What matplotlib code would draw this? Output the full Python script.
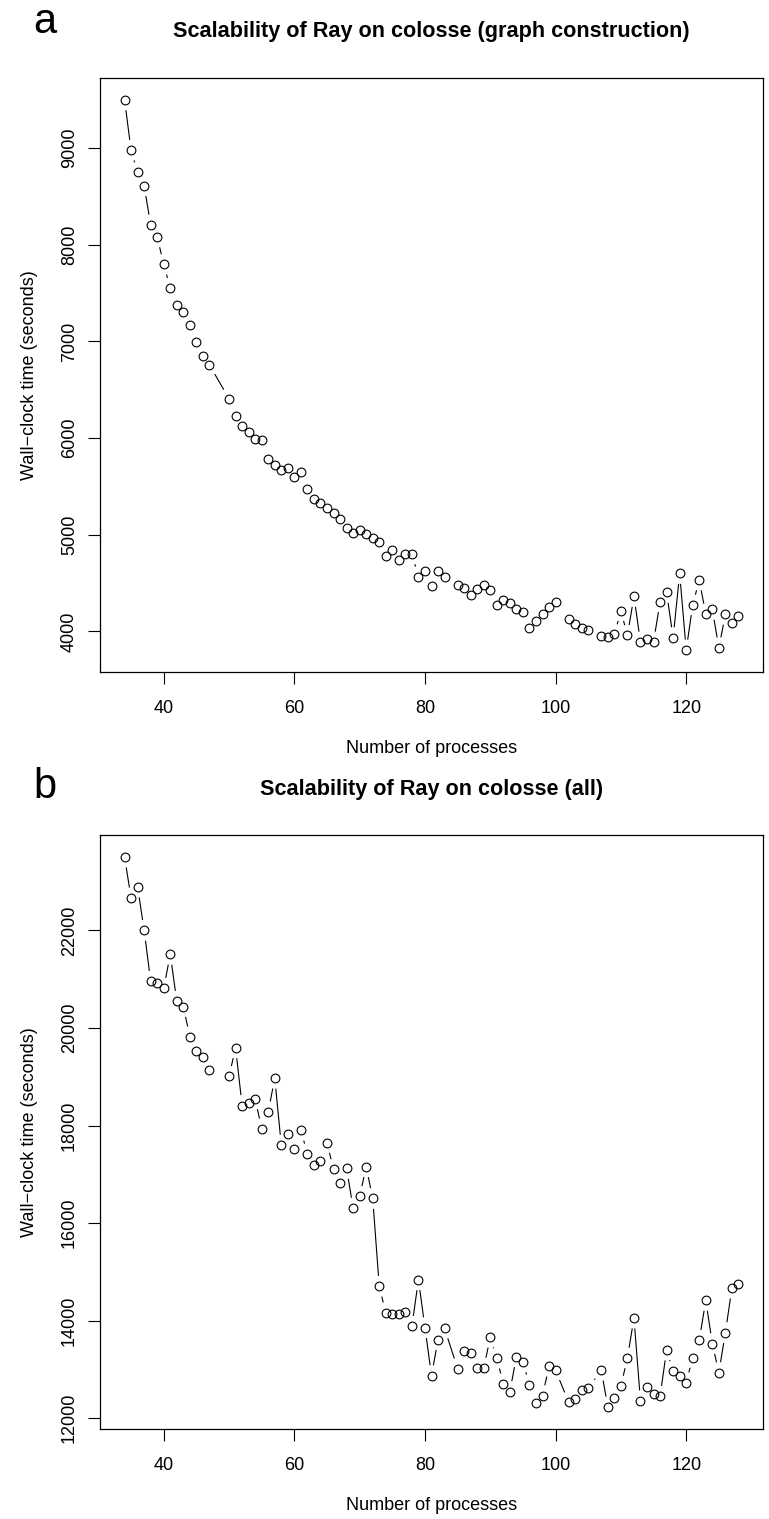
import numpy as np
import matplotlib
matplotlib.use("Agg")
import matplotlib.pyplot as plt

# ---------------- data ----------------
procs = ([34, 35, 36, 37, 38, 39, 40, 41, 42, 43, 44, 45, 46, 47]
         + list(range(50, 84)) + list(range(85, 101))
         + [102, 103, 104, 105] + list(range(107, 129)))

time_graph = [9500, 8976, 8748, 8611, 8204, 8080, 7796, 7552, 7380, 7300, 7166, 6997, 6850, 6756,
              6407, 6228, 6121, 6059, 5990, 5976, 5786, 5721, 5673, 5693, 5597, 5652, 5476, 5373,
              5328, 5272, 5221, 5163, 5070, 5021, 5045, 5007, 4966, 4925, 4783, 4838, 4742, 4797,
              4800, 4566, 4625, 4470, 4628, 4566,
              4483, 4445, 4376, 4441, 4476, 4424, 4276, 4328, 4292, 4228, 4200, 4035, 4110, 4180,
              4250, 4300,
              4131, 4072, 4036, 4014,
              3953, 3942, 3969, 4214, 3959, 4362, 3890, 3921, 3890, 4307, 4403, 3935, 4600, 3808,
              4276, 4531, 4180, 4228, 3831, 4176, 4083, 4162]

time_all = [23503, 22663, 22889, 22000, 20956, 20915, 20812, 21509, 20546, 20437, 19817, 19530,
            19399, 19141,
            19010, 19592, 18410, 18471, 18547, 17932, 18281, 18970, 17597, 17822, 17515, 17898,
            17421, 17200, 17263, 17650, 17099, 16819, 17120, 16307, 16546, 17154, 16505, 14703,
            14164, 14130, 14130, 14171, 13884, 14840, 13857, 12874, 13611, 13843,
            13017, 13386, 13337, 13030, 13030, 13659, 13229, 12710, 12547, 13260, 13150, 12690,
            12307, 12465, 13065, 12983,
            12331, 12389, 12584, 12614,
            12986, 12231, 12416, 12662, 13235, 14054, 12355, 12649, 12491, 12450, 13399, 12963,
            12867, 12731, 13243, 13597, 14417, 13530, 12936, 13755, 14669, 14759]

xticks = [40, 60, 80, 100, 120]
yticks_graph = [4000, 5000, 6000, 7000, 8000, 9000]
yticks_all = [12000, 14000, 16000, 18000, 20000, 22000]

title_graph = "Scalability of Ray on colosse (graph construction)"
title_all = "Scalability of Ray on colosse (all)"
xlabel = "Number of processes"
ylabel = "Wall\u2212clock time (seconds)"

# ---------------- layout ----------------
plt.rcParams['font.family'] = ['Liberation Sans', 'DejaVu Sans']
W, H = 769, 1519
DPI = 100
fig = plt.figure(figsize=(W / DPI, H / DPI), dpi=DPI)
FS = 12.96


def add_axes(top_px, bottom_px, left_px=100, right_px=763):
    return fig.add_axes([left_px / W, 1 - bottom_px / H,
                         (right_px - left_px) / W, (bottom_px - top_px) / H])


def rlim(v):
    lo, hi = min(v), max(v)
    pad = 0.04 * (hi - lo)
    return lo - pad, hi + pad


def panel(ax, x, y, yticks, title, letter, top_px, bottom_px, letter_base_px):
    ax.set_xlim(*rlim(x))
    ax.set_ylim(*rlim(y))
    ax.plot(x, y, linestyle='none', marker='o', mfc='none', mec='black',
            ms=6.3, mew=0.8)
    # R-style type="b" connecting segments with gaps around points
    pts = ax.transData.transform(np.column_stack([x, y]))
    inv = ax.transData.inverted()
    gap = 10.5
    for p0, p1 in zip(pts[:-1], pts[1:]):
        d = p1 - p0
        L = np.hypot(d[0], d[1])
        if L > 2 * gap:
            u = d / L
            a = inv.transform(p0 + u * gap)
            b = inv.transform(p1 - u * gap)
            ax.plot([a[0], b[0]], [a[1], b[1]], color='black', lw=0.8,
                    solid_capstyle='butt')
    ax.set_xticks(xticks)
    ax.set_yticks(yticks)
    ax.set_xticklabels([str(t) for t in xticks])
    ax.set_yticklabels([str(t) for t in yticks])
    ax.tick_params(axis='both', direction='out', length=8.6, width=0.8,
                   labelsize=FS, color='black')
    ax.tick_params(axis='x', pad=11.5)
    ax.tick_params(axis='y', pad=7.3, labelrotation=90)
    for lab in ax.get_yticklabels():
        lab.set_va('center')
    for s in ax.spines.values():
        s.set_linewidth(0.9)
        s.set_color('black')
    hpx = bottom_px - top_px
    ax.set_xlabel(xlabel, fontsize=FS, va='center')
    ax.xaxis.set_label_coords(0.5, -76 / hpx)
    ax.set_ylabel(ylabel, fontsize=FS, va='center')
    ax.yaxis.set_label_coords((29 - 100) / 663, 0.5)
    ax.set_title(title, fontsize=FS * 1.2, fontweight='bold',
                 y=1 + 46 / hpx, pad=0, va='center')
    fig.text(33 / W, 1 - letter_base_px / H, letter, fontsize=30,
             ha='left', va='baseline')


ax1 = add_axes(77.7, 672)
panel(ax1, procs, time_graph, yticks_graph, title_graph, 'a', 77.7, 672, 33)
ax2 = add_axes(835, 1429)
panel(ax2, procs, time_all, yticks_all, title_all, 'b', 835, 1429, 798)

fig.savefig("out.png", dpi=DPI)
